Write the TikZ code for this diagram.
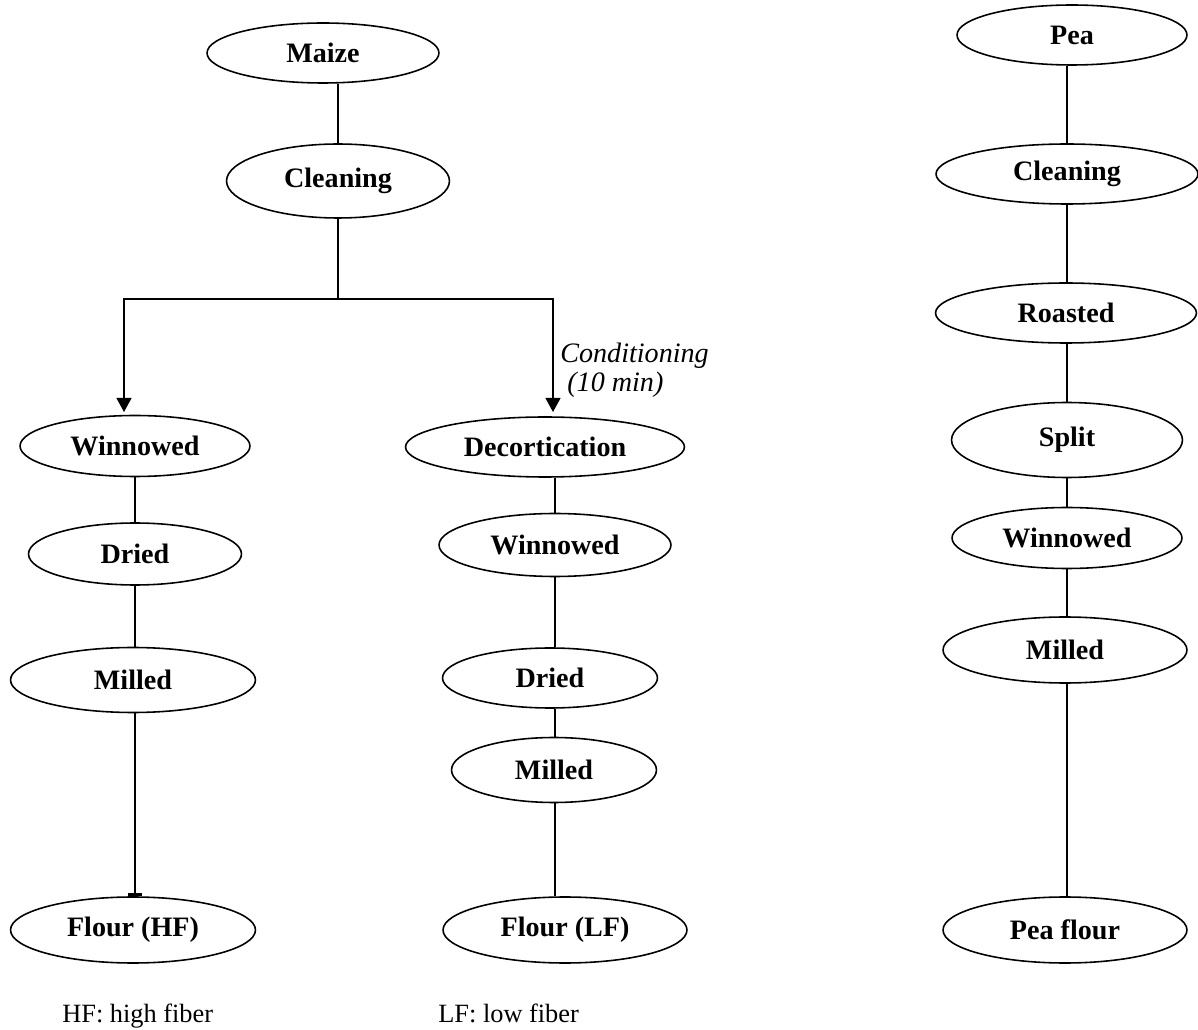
\documentclass[tikz,border=0pt]{standalone}
\usepackage{fontspec}
\setmainfont{Liberation Serif}
\usetikzlibrary{shapes.geometric,arrows.meta,calc}
\begin{document}
\begin{tikzpicture}[x=0.02cm,y=-0.02cm,
  proc/.style={draw, ellipse, line width=0.9pt, inner sep=0pt, font=\fontsize{16}{19}\selectfont\bfseries},
  conn/.style={line width=0.9pt},
  arr/.style={line width=0.9pt, -{Triangle[length=8pt,width=8.5pt]}},
  note/.style={font=\fontsize{15}{18}\selectfont, anchor=base west, inner sep=0pt},
  cond/.style={font=\fontsize{16}{19}\selectfont\itshape, anchor=base west, inner sep=0pt},
]
\useasboundingbox (0,0) rectangle (1198,1030);
% left (maize) branch
\node[proc, minimum width=4.64cm, minimum height=1.2cm] (maize) at (323,53) {Maize};
\node[proc, minimum width=4.46cm, minimum height=1.48cm] (cleanL) at (338,181) {Cleaning};
\node[proc, minimum width=4.6cm, minimum height=1.22cm] (winL) at (135,446) {Winnowed};
\node[proc, minimum width=4.26cm, minimum height=1.24cm] (dryL) at (135,554) {Dried};
\node[proc, minimum width=4.9cm, minimum height=1.3cm] (millL) at (133,680) {Milled};
\node[proc, minimum width=4.9cm, minimum height=1.32cm] (flourHF) at (133,930) {Flour (HF)};
% middle branch
\node[proc, minimum width=5.58cm, minimum height=1.2cm] (decort) at (545,447) {Decortication};
\node[proc, minimum width=4.64cm, minimum height=1.26cm] (winM) at (555,545) {Winnowed};
\node[proc, minimum width=4.3cm, minimum height=1.2cm] (dryM) at (550,678) {Dried};
\node[proc, minimum width=4.1cm, minimum height=1.3cm] (millM) at (554,770) {Milled};
\node[proc, minimum width=4.88cm, minimum height=1.32cm] (flourLF) at (565,930) {Flour (LF)};
% pea branch
\node[proc, minimum width=4.6cm, minimum height=1.2cm] (pea) at (1072,35) {Pea};
\node[proc, minimum width=5.24cm, minimum height=1.2cm] (cleanR) at (1067,174) {Cleaning};
\node[proc, minimum width=5.22cm, minimum height=1.2cm] (roast) at (1066,313) {Roasted};
\node[proc, minimum width=4.62cm, minimum height=1.5cm] (split) at (1067,440) {Split};
\node[proc, minimum width=4.6cm, minimum height=1.22cm] (winR) at (1067,538) {Winnowed};
\node[proc, minimum width=4.88cm, minimum height=1.32cm] (millR) at (1065,650) {Milled};
\node[proc, minimum width=4.88cm, minimum height=1.32cm] (peaflour) at (1065,930) {Pea flour};
% helper coordinates
\coordinate (colL) at (135,0);
\coordinate (colM) at (555,0);
\coordinate (colR) at (1067,0);
\coordinate (fork) at (338,299);
\coordinate (tipL) at (124,412);
\coordinate (tipM) at (553,412);
% connectors
\draw[conn] (maize.south -| cleanL) -- (cleanL.north);
\draw[conn] (cleanL.south) -- (fork);
\draw[arr] (fork) -| (tipL);
\draw[arr] (fork) -| (tipM);
\draw[conn] (winL.south -| colL) -- (dryL.north -| colL);
\draw[conn] (dryL.south -| colL) -- (millL.north -| colL);
\draw[conn, -{Bar[width=8pt,line width=1.6pt]}] (millL.south -| colL) -- (flourHF.north -| colL);
\draw[conn] (decort.south -| colM) -- (winM.north -| colM);
\draw[conn] (winM.south -| colM) -- (dryM.north -| colM);
\draw[conn] (dryM.south -| colM) -- (millM.north -| colM);
\draw[conn] (millM.south -| colM) -- (flourLF.north -| colM);
\draw[conn] (pea.south -| colR) -- (cleanR.north -| colR);
\draw[conn] (cleanR.south -| colR) -- (roast.north -| colR);
\draw[conn] (roast.south -| colR) -- (split.north -| colR);
\draw[conn] (split.south -| colR) -- (winR.north -| colR);
\draw[conn] (winR.south -| colR) -- (millR.north -| colR);
\draw[conn] (millR.south -| colR) -- (peaflour.north -| colR);
% labels
\node[cond] (cond1) at (560,363) {Conditioning};
\node[cond] (cond2) at (567,392) {(10 min)};
\node[note] (hf) at (62,1022) {HF: high fiber};
\node[note] (lf) at (438,1022) {LF: low fiber};
\end{tikzpicture}
\end{document}
